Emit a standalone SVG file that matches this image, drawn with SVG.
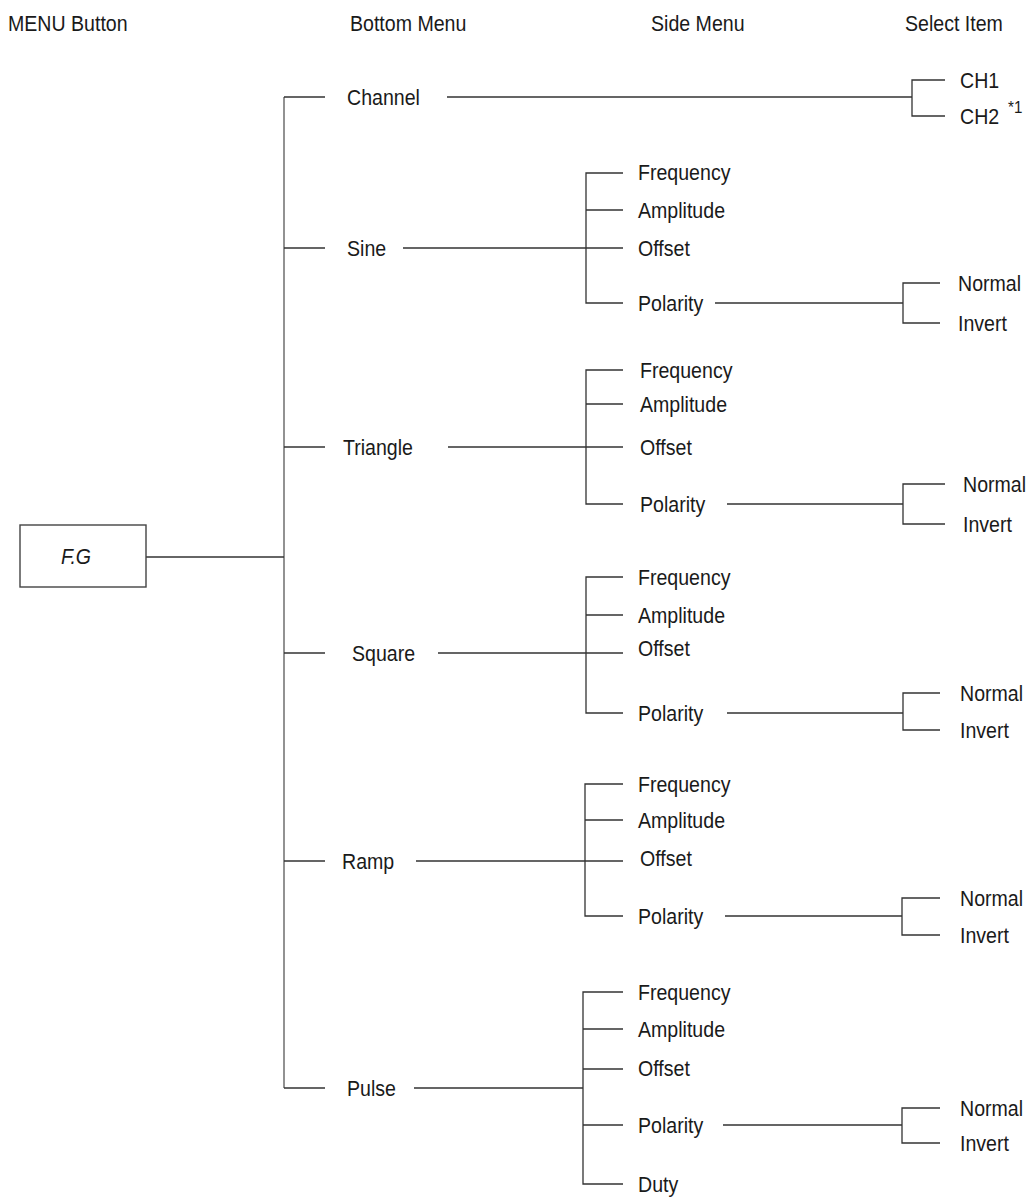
<svg xmlns="http://www.w3.org/2000/svg" width="1029" height="1201" viewBox="0 0 1029 1201">
<style>
text{font-family:"Liberation Sans",Arial,sans-serif;font-size:22px;fill:#1a1a1a}
.sup{font-size:17px}
.it{font-style:italic}
.c path{fill:none;stroke:#333;stroke-width:1.3}
.c path.g{stroke:#777;stroke-width:1.6}
.box{fill:#fff;stroke:#444;stroke-width:1.4}
</style>
<rect width="1029" height="1201" fill="#fff"/>
<g id="headers">
<text transform="translate(8,31) scale(.89 1)">MENU Button</text>
<text transform="translate(350,31) scale(.89 1)">Bottom Menu</text>
<text transform="translate(651,31) scale(.89 1)">Side Menu</text>
<text transform="translate(905,31) scale(.89 1)">Select Item</text>
</g>
<g class="c" id="connectors">
<path class="g" d="M284 97V1088"/>
<path d="M146 557H284"/>
<path d="M284 97H325M284 248H325M284 447H325M284 653H325M284 861H325M284 1088H325"/>
<path d="M447 97H912M945 80H912V116H945"/>
<path d="M403 248H623M623 173H586V303H623M586 210H623M715 303H903M940 283H903V323H940"/>
<path d="M448 447H623M623 370H586V504H623M586 404H623M727 504H903M945 484H903V524H945"/>
<path d="M438 653H623M623 577H586V713H623M586 615H623M727 713H903M940 693H903V730H940"/>
<path d="M416 861H623M623 784H585V916H623M585 820H623M725 916H902M940 898H902V935H940"/>
<path d="M414 1088H583M623 992H583V1184H623M583 1029H623M583 1069H623M583 1125H623M723 1125H902M940 1108H902V1143H940"/>
</g>
<g id="fg"><rect class="box" x="20" y="525" width="126" height="62"/><text class="it" transform="translate(61,564) scale(.89 1)">F.G</text></g>
<g id="channel"><text transform="translate(347,105) scale(.89 1)">Channel</text></g>
<g id="ch1"><text transform="translate(960,88) scale(.89 1)">CH1</text></g>
<g id="ch2"><text transform="translate(960,124) scale(.89 1)">CH2</text><text class="sup" transform="translate(1008,113) scale(.89 1)">*1</text></g>
<g id="sine">
<text transform="translate(347,256) scale(.89 1)">Sine</text>
<text transform="translate(638,180) scale(.89 1)">Frequency</text>
<text transform="translate(638,218) scale(.89 1)">Amplitude</text>
<text transform="translate(638,256) scale(.89 1)">Offset</text>
<text transform="translate(638,311) scale(.89 1)">Polarity</text>
<text transform="translate(958,291) scale(.89 1)">Normal</text>
<text transform="translate(958,331) scale(.89 1)">Invert</text>
</g>
<g id="triangle">
<text transform="translate(343,455) scale(.89 1)">Triangle</text>
<text transform="translate(640,378) scale(.89 1)">Frequency</text>
<text transform="translate(640,412) scale(.89 1)">Amplitude</text>
<text transform="translate(640,455) scale(.89 1)">Offset</text>
<text transform="translate(640,512) scale(.89 1)">Polarity</text>
<text transform="translate(963,492) scale(.89 1)">Normal</text>
<text transform="translate(963,532) scale(.89 1)">Invert</text>
</g>
<g id="square">
<text transform="translate(352,661) scale(.89 1)">Square</text>
<text transform="translate(638,585) scale(.89 1)">Frequency</text>
<text transform="translate(638,623) scale(.89 1)">Amplitude</text>
<text transform="translate(638,656) scale(.89 1)">Offset</text>
<text transform="translate(638,721) scale(.89 1)">Polarity</text>
<text transform="translate(960,701) scale(.89 1)">Normal</text>
<text transform="translate(960,738) scale(.89 1)">Invert</text>
</g>
<g id="ramp">
<text transform="translate(342,869) scale(.89 1)">Ramp</text>
<text transform="translate(638,792) scale(.89 1)">Frequency</text>
<text transform="translate(638,828) scale(.89 1)">Amplitude</text>
<text transform="translate(640,866) scale(.89 1)">Offset</text>
<text transform="translate(638,924) scale(.89 1)">Polarity</text>
<text transform="translate(960,906) scale(.89 1)">Normal</text>
<text transform="translate(960,943) scale(.89 1)">Invert</text>
</g>
<g id="pulse">
<text transform="translate(347,1096) scale(.89 1)">Pulse</text>
<text transform="translate(638,1000) scale(.89 1)">Frequency</text>
<text transform="translate(638,1037) scale(.89 1)">Amplitude</text>
<text transform="translate(638,1076) scale(.89 1)">Offset</text>
<text transform="translate(638,1133) scale(.89 1)">Polarity</text>
<text transform="translate(638,1192) scale(.89 1)">Duty</text>
<text transform="translate(960,1116) scale(.89 1)">Normal</text>
<text transform="translate(960,1151) scale(.89 1)">Invert</text>
</g>
</svg>
